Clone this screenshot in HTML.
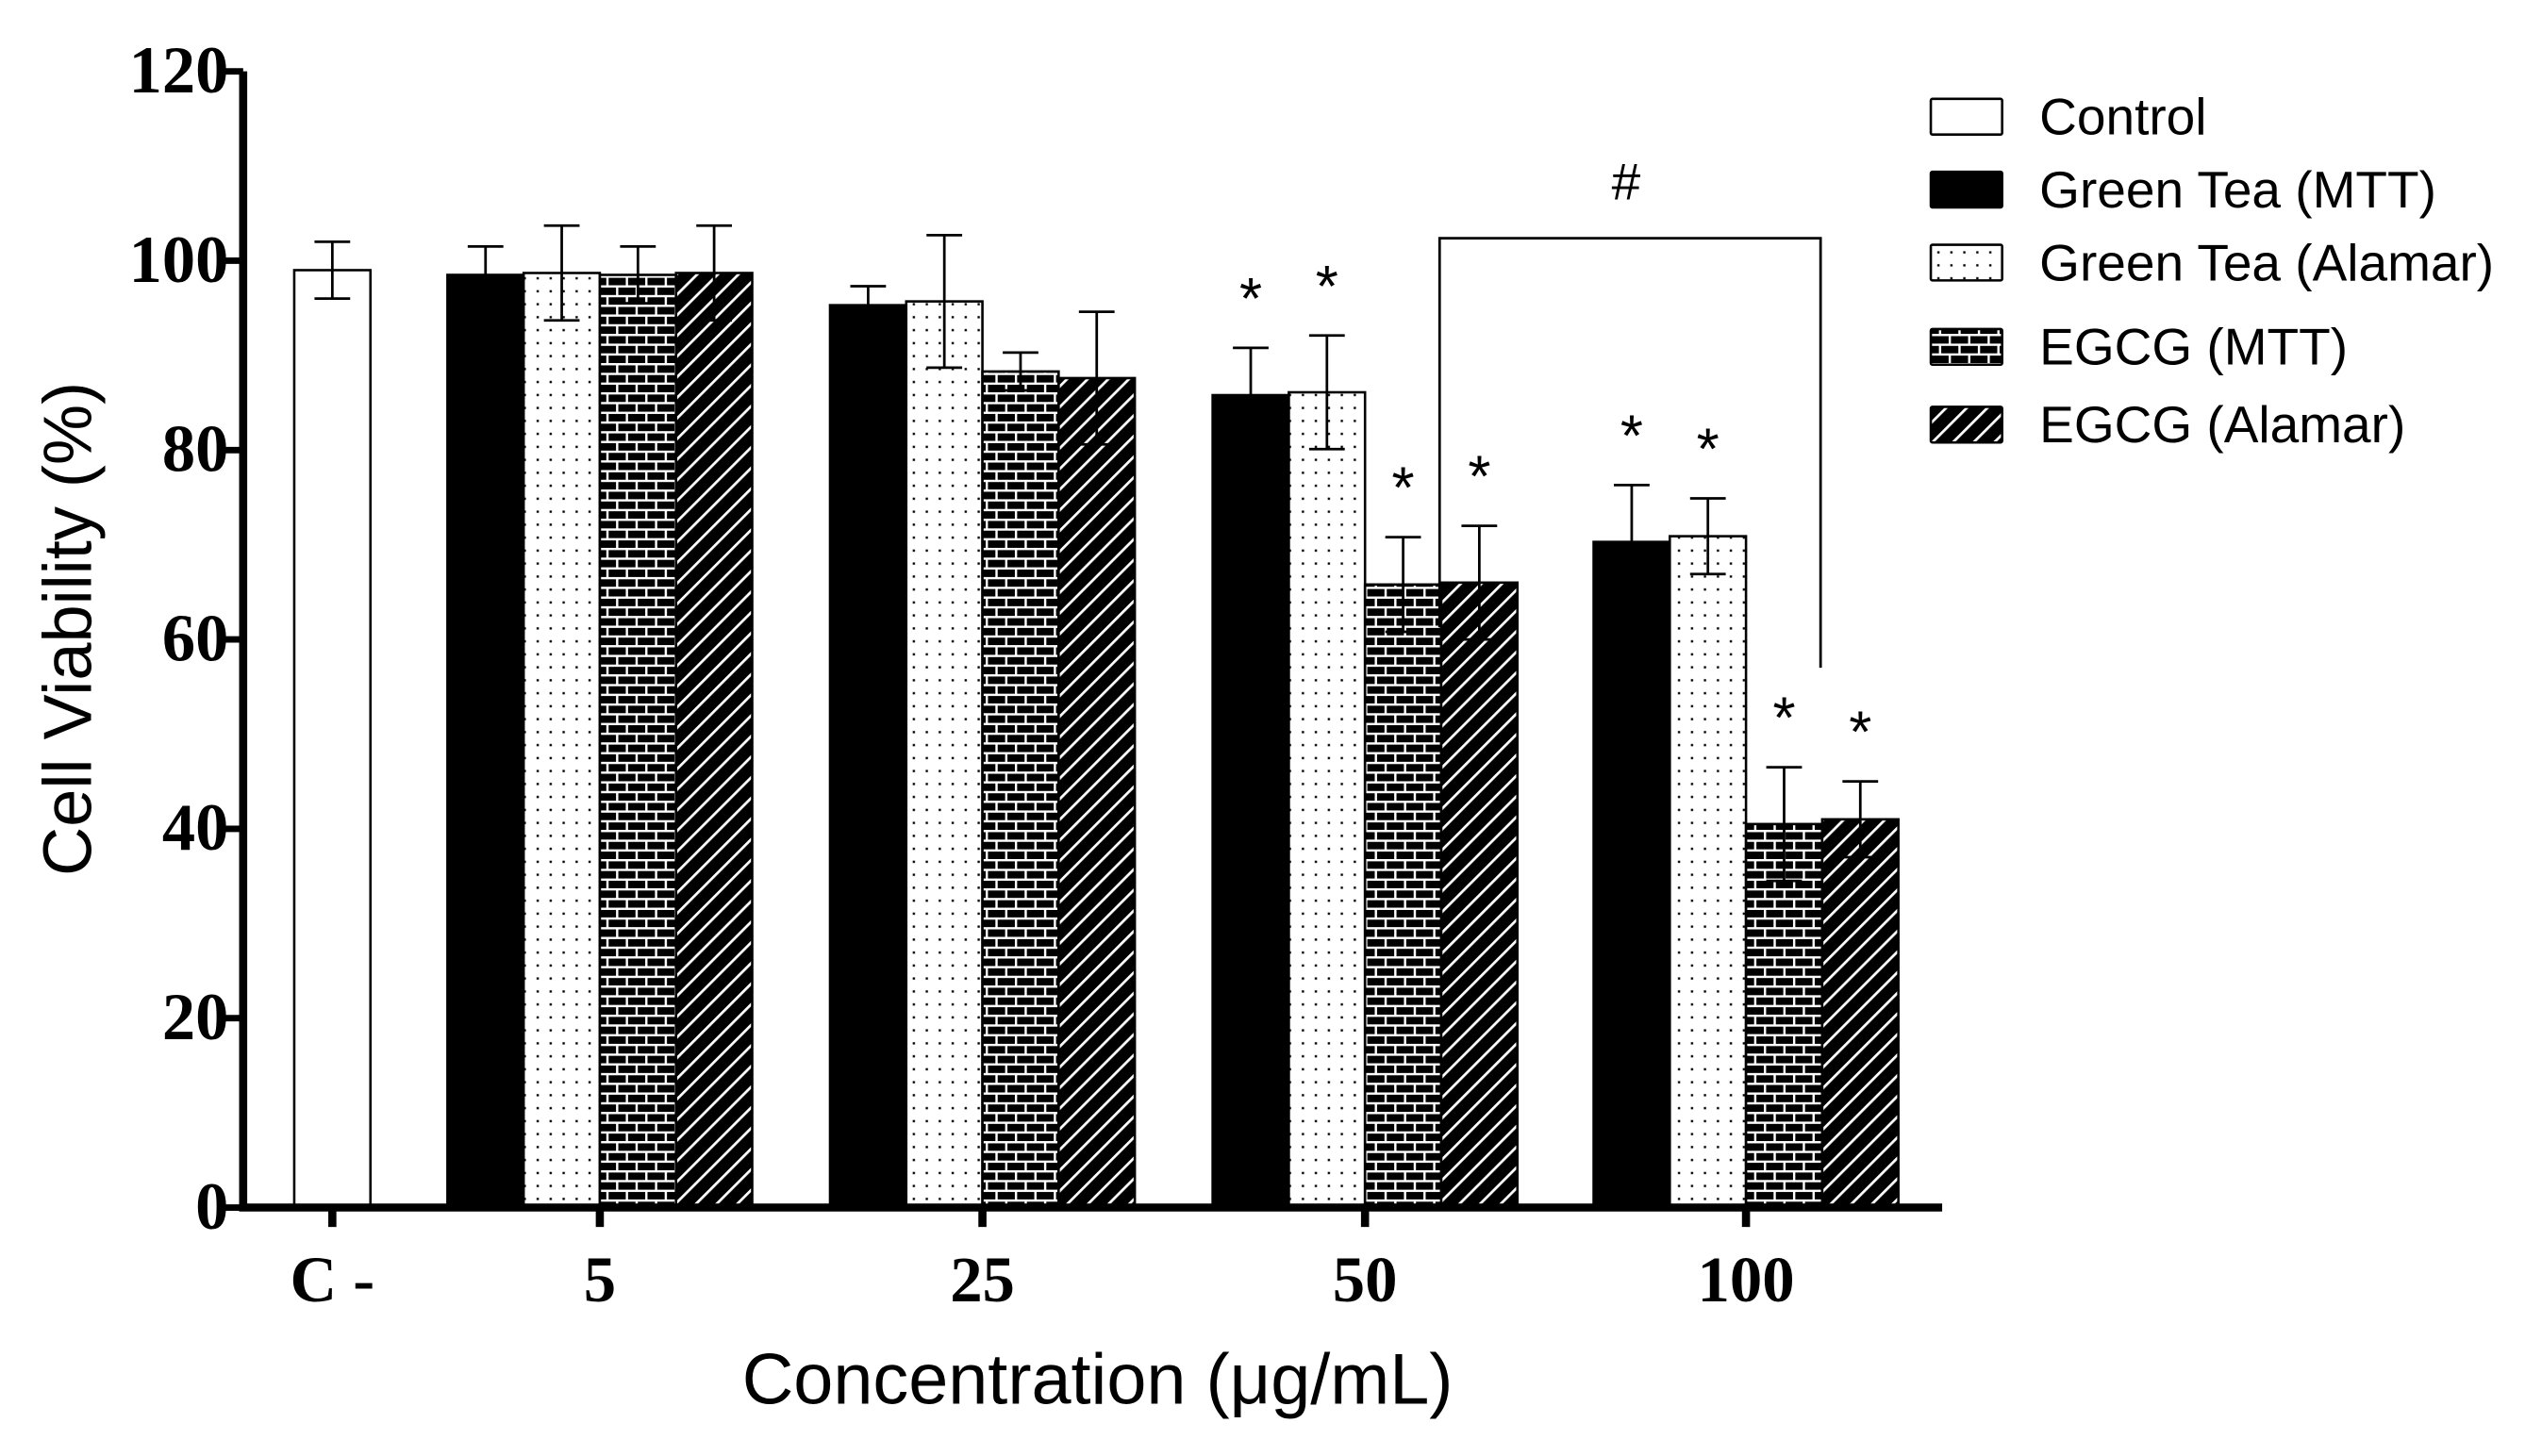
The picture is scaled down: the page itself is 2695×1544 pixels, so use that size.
<!DOCTYPE html>
<html><head><meta charset="utf-8"><style>
html,body{margin:0;padding:0;background:#fff;}
svg{display:block;}
</style></head><body>
<svg id="chart" width="2695" height="1544" viewBox="0 0 1568 898.3" preserveAspectRatio="none" xmlns="http://www.w3.org/2000/svg">
<defs>
<pattern id="dots" width="8" height="8" patternUnits="userSpaceOnUse"><rect width="8" height="8" fill="#fff"/><rect x="3" y="3" width="1.4" height="1.4" fill="#000"/></pattern>
<pattern id="brick" width="12" height="12" patternUnits="userSpaceOnUse"><rect width="12" height="12" fill="#000"/><rect x="0" y="2" width="12" height="1.4" fill="#fff"/><rect x="0" y="8" width="12" height="1.4" fill="#fff"/><rect x="2" y="2" width="1.4" height="6" fill="#fff"/><rect x="8" y="8" width="1.4" height="6" fill="#fff"/><rect x="8" y="0" width="1.4" height="2" fill="#fff"/></pattern>
<pattern id="hatch" width="9" height="9" patternUnits="userSpaceOnUse" patternTransform="rotate(45)"><rect width="9" height="9" fill="#000"/><rect x="0" y="0" width="1.6" height="9" fill="#fff"/></pattern>
</defs>
<g id="plot"></g>
</svg>
<script>
const categories = ["C -", "5", "25", "50", "100"];
const seriesNames = ["Control", "Green Tea (MTT)", "Green Tea (Alamar)", "EGCG (MTT)", "EGCG (Alamar)"];
const controlVal = [99];
const controlErr = [3];
const gtMtt = [98.5, 95.3, 85.8, 70.3];
const gtMttErr = [3, 2, 5, 6];
const gtAlamar = [98.7, 95.7, 86.1, 70.9];
const gtAlamarErr = [5, 7, 6, 4];
const egMtt = [98.5, 88.3, 65.8, 40.5];
const egMttErr = [3, 2, 5, 6];
const egAlamar = [98.7, 87.6, 66, 41];
const egAlamarErr = [5, 7, 6, 4];
const sigGtMtt = [false, false, true, true];
const sigGtAlamar = [false, false, true, true];
const sigEgMtt = [false, false, true, true];
const sigEgAlamar = [false, false, true, true];
const yTicks = [0, 20, 40, 60, 80, 100, 120];

const NS = "http://www.w3.org/2000/svg";
const g = document.getElementById("plot");
const X0 = 150, Y0 = 745, YTOP = 44, XEND = 1198;
const y = v => Y0 - (v / 120) * (Y0 - YTOP);
const centers = [205, 370, 606, 842, 1077];
const BW = 47;
const SANS = "'Liberation Sans', Arial, sans-serif";
const SERIF = "'Liberation Serif', 'Times New Roman', serif";
function mk(tag, attrs, parent) {
  const e = document.createElementNS(NS, tag);
  for (const k in attrs) e.setAttribute(k, attrs[k]);
  (parent || g).appendChild(e);
  return e;
}
function txt(s, attrs) { const t = mk("text", attrs); t.textContent = s; return t; }

function bar(x, v, err, fill, name, star) {
  const r = mk("rect", {x: x, y: y(v), width: BW, height: Y0 - y(v), fill: fill, stroke: "#000", "stroke-width": 1.5});
  
  
  const cx = x + BW / 2;
  const eb = mk("path", {d: `M${cx},${y(v - err)}V${y(v + err)}M${cx - 11},${y(v + err)}H${cx + 11}M${cx - 11},${y(v - err)}H${cx + 11}`, stroke: "#000", "stroke-width": 1.6, fill: "none"});
  
  
  if (star) {
    const s = txt("*", {x: cx, y: y(v + err) - 18, "text-anchor": "middle", "font-family": SANS, "font-size": 36});
    
    
  }
}
bar(centers[0] - BW / 2, controlVal[0], controlErr[0], "#fff", "bar-control", false);
const series = [[gtMtt, gtMttErr, "#000", "green-tea-mtt", sigGtMtt], [gtAlamar, gtAlamarErr, "url(#dots)", "green-tea-alamar", sigGtAlamar], [egMtt, egMttErr, "url(#brick)", "egcg-mtt", sigEgMtt], [egAlamar, egAlamarErr, "url(#hatch)", "egcg-alamar", sigEgAlamar]];
for (let i = 0; i < 4; i++) {
  const c = centers[i + 1];
  series.forEach((s, j) => {
    bar(c - 2 * BW + j * BW, s[0][i], s[1][i], s[2], "bar-" + s[3] + "-" + categories[i + 1], s[4][i]);
  });
}
const ax = mk("path", {d: `M${X0},${YTOP}V${Y0}H${XEND}`, stroke: "#000", "stroke-width": 5, fill: "none"});


yTicks.forEach(t => {
  mk("line", {x1: X0 - 12, x2: X0, y1: y(t), y2: y(t), stroke: "#000", "stroke-width": 4});
  const l = txt(String(t), {x: X0 - 9, y: y(t) + 13, "text-anchor": "end", "font-family": SERIF, "font-weight": "bold", "font-size": 41});
  
  
});
categories.forEach((c, i) => {
  mk("line", {x1: centers[i], x2: centers[i], y1: Y0, y2: Y0 + 12, stroke: "#000", "stroke-width": 5});
  const l = txt(c, {x: centers[i], y: 803, "text-anchor": "middle", "font-family": SERIF, "font-weight": "bold", "font-size": 40});
  
  
});
const yt = txt("Cell Viability (%)", {x: 0, y: 0, transform: "translate(56,388) rotate(-90)", "text-anchor": "middle", "font-family": SANS, "font-size": 42});


const xt = txt("Concentration (\u03bcg/mL)", {x: 677, y: 866, "text-anchor": "middle", "font-family": SANS, "font-size": 44});


const br = mk("path", {d: "M888,387V147H1123V412", stroke: "#000", "stroke-width": 1.6, fill: "none"});


const hs = txt("#", {x: 1003, y: 123, "text-anchor": "middle", "font-family": SANS, "font-size": 32});


const fills = ["#fff", "#000", "url(#dots)", "url(#brick)", "url(#hatch)"];
const ly = [72, 117, 162, 214, 262];
seriesNames.forEach((n, i) => {
  const e = mk("g", {});
  
  
  mk("rect", {x: 1191, y: ly[i] - 11, width: 44, height: 22, fill: fills[i], stroke: "#000", "stroke-width": 1.5, rx: 1}, e);
  const t = mk("text", {x: 1258, y: ly[i] + 11, "font-family": SANS, "font-size": 32}, e);
  t.textContent = n;
});
</script>
</body></html>
